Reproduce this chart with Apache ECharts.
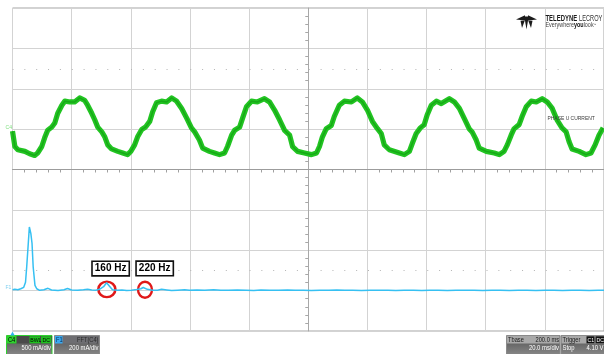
<!DOCTYPE html>
<html><head><meta charset="utf-8">
<script src="https://cdn.jsdelivr.net/npm/echarts@6/dist/echarts.min.js"></script>
<style>html,body{margin:0;padding:0;background:#fff}#c{width:604px;height:354px}</style>
</head><body><div id="c"></div>
<script>
// ---- C4 current trace (time in ms, current in A) ----
const traceTimeMs = [0,0.8,1.8,4.2,5.8,7.5,8.5,9.9,10.9,11.9,13.3,14.3,15.3,16.7,17.7,19.4,21.0,22.7,24.4,25.4,26.8,27.8,28.8,30.2,31.2,32.2,33.5,35.6,37.3,38.9,40.0,41.3,42.3,43.7,45.0,46.4,47.4,48.7,50.4,52.1,53.8,55.5,57.2,58.9,60.5,61.6,63.2,64.3,66.6,68.3,70.0,71.7,72.7,74.1,75.1,76.8,77.8,79.1,80.8,82.8,85.2,86.9,88.6,90.3,92.0,93.7,94.7,96.4,98.7,101.1,102.8,103.8,104.8,106.1,107.8,108.8,110.5,112.2,114.6,116.6,118.3,120.0,121.7,123.4,124.7,125.7,127.4,130.8,132.5,134.2,135.2,136.5,137.9,139.2,140.2,141.6,143.3,145.0,147.7,149.4,151.1,152.7,154.4,155.4,156.8,157.8,160.2,162.9,164.6,166.2,167.3,168.6,169.6,171.3,172.3,173.7,175.4,177.1,179.1,180.8,182.5,184.1,185.8,187.2,188.2,189.2,191.6,193.9,195.6,197.0,198.3,199.7];
const traceCurrentA = [-0.02,-0.21,-0.25,-0.27,-0.30,-0.32,-0.29,-0.21,-0.10,-0.01,0.03,0.08,0.20,0.30,0.35,0.34,0.34,0.39,0.36,0.30,0.20,0.12,0.03,-0.03,-0.09,-0.19,-0.24,-0.27,-0.29,-0.31,-0.27,-0.19,-0.09,0.00,0.03,0.10,0.22,0.33,0.35,0.34,0.39,0.35,0.26,0.14,0.02,-0.03,-0.13,-0.23,-0.27,-0.29,-0.31,-0.29,-0.21,-0.07,-0.01,0.03,0.14,0.28,0.35,0.34,0.38,0.34,0.24,0.12,-0.01,-0.07,-0.21,-0.27,-0.29,-0.31,-0.29,-0.21,-0.09,0.01,0.05,0.16,0.30,0.35,0.34,0.39,0.34,0.24,0.10,0.01,-0.05,-0.19,-0.25,-0.29,-0.31,-0.27,-0.17,-0.05,0.02,0.06,0.18,0.30,0.35,0.32,0.38,0.34,0.26,0.14,0.01,-0.03,-0.13,-0.23,-0.27,-0.29,-0.31,-0.27,-0.19,-0.07,0.01,0.06,0.16,0.28,0.35,0.34,0.38,0.34,0.26,0.12,0.02,-0.03,-0.15,-0.24,-0.27,-0.31,-0.29,-0.19,-0.07,0.02];

// ---- F1 = FFT(C4) (frequency in Hz, amplitude in A) ----
const fftFreqHz = [0,4,9,14,19,22,24,27,28.5,31,33,35,38,41,46,53,60,66,77,87,93,100,110,120,127,134,141,147,154,159,164,169,178,185,193,201,210,217,221,228,237,245,252,261,269,279,291,299,312,325,340,352,365,380,395,408,420,435,450,465,478,492,505,520,535,548,562,575,590,605,620,635,648,662,678,692,705,720,735,750,765,780,795,810,825,840,855,870,885,900,915,930,945,960,975,990,1000];
const fftAmpA = [0.005,0.007,0.005,0.010,0.017,0.042,0.118,0.250,0.317,0.285,0.236,0.117,0.027,0.010,0.002,0.005,0.012,0.004,0.001,0.005,0.011,0.004,0.002,0.005,0.008,0.004,0.003,0.007,0.020,0.040,0.022,0.005,0.002,0.004,0.001,0.003,0.006,0.010,0.016,0.007,0.003,0.002,0.007,0.004,0.001,0.003,0.005,0.002,0.004,0.002,0.005,0.003,0.002,0.004,0.003,0.001,0.004,0.003,0.002,0.004,0.002,0.003,0.001,0.003,0.002,0.004,0.002,0.003,0.001,0.003,0.002,0.003,0.001,0.002,0.003,0.001,0.002,0.003,0.001,0.002,0.003,0.002,0.001,0.002,0.003,0.001,0.002,0.002,0.001,0.003,0.002,0.001,0.002,0.003,0.001,0.002,0.002];

// ---- annotations ----
const harmonicNotes = [{hz:159.5, amp:0.007, text:'160 Hz'}, {hz:224, amp:0.005, text:'220 Hz'}];
const traceNames = {c4:'PHASE U CURRENT'};
const scaleInfo = {c4:'500 mA/div', f1:'200 mA/div', tdiv:'20.0 ms/div', tbase:'200.0 ms', trig:'4.10 V'};

const chart = echarts.init(document.getElementById('c'), null, {renderer:'canvas', width:604, height:354});
const L = 12.5, W = 592.5;
const sans = '"Liberation Sans",Arial,sans-serif';

function txt(x, y, text, size, fill, opts, sx) {
  return {type:'text', x:x, y:y, z:50, scaleX:(sx==null?0.84:sx), scaleY:1,
    style:Object.assign({text:text, fontSize:size, fontFamily:sans, fill:fill, textVerticalAlign:'middle', textAlign:'left'}, opts||{})};
}
function rect(x, y, w, h, fill, stroke) {
  return {type:'rect', z:45, shape:{x:x, y:y, width:w, height:h}, style:{fill:fill, stroke:stroke||null, lineWidth:stroke?1:0}};
}
const bodyGrad = {type:'linear', x:0, y:0, x2:0, y2:1, colorStops:[{offset:0, color:'#4e4e4e'}, {offset:1, color:'#8a8a8a'}]};

const graphics = [
  // logo mark
  {type:'polygon', z:50, shape:{points:[[516,19.5],[525,15.2],[525,20.5]]}, style:{fill:'#1b1b1b'}},
  {type:'polygon', z:50, shape:{points:[[537,19.5],[528,15.2],[528,20.5]]}, style:{fill:'#1b1b1b'}},
  {type:'polygon', z:50, shape:{points:[[524.3,16.5],[528.7,16.5],[526.5,29.5]]}, style:{fill:'#1b1b1b'}},
  {type:'polygon', z:50, shape:{points:[[520.5,20.8],[524.8,20.5],[522,28]]}, style:{fill:'#1b1b1b'}},
  {type:'polygon', z:50, shape:{points:[[532.5,20.8],[528.2,20.5],[531,28]]}, style:{fill:'#1b1b1b'}},
  txt(545.5, 18.8, 'TELEDYNE', 8.6, '#1b1b1b', {fontWeight:'bold'}, 0.69),
  txt(579, 18.8, 'LECROY', 8.6, '#333', null, 0.66),
  {type:'text', x:545.5, y:25.2, z:50, scaleX:0.82, style:{text:'{a|Everywhere}{b|you}{a|look}{c|™}', textVerticalAlign:'middle', rich:{a:{fontSize:6.6, fontFamily:sans, fill:'#444'}, b:{fontSize:6.6, fontFamily:sans, fontWeight:'bold', fill:'#111'}, c:{fontSize:3.5, fontFamily:sans, fill:'#444'}}}},
  // trace name
  txt(547.5, 118.5, traceNames.c4, 6.2, '#3a3a3a', null, 0.8),
  // channel ground markers
  txt(5.5, 127.5, 'C4', 6, '#7fe07f'),
  txt(5.5, 287.5, 'F1', 6, '#7fd0f0'),
  // trigger position marker
  {type:'polygon', z:50, shape:{points:[[10.3,335.5],[14.7,335.5],[12.5,331.5]]}, style:{fill:'#33b5f0'}},
  // C4 descriptor
  rect(6.5, 335.5, 45.5, 20, bodyGrad, '#2fd12f'),
  rect(7, 336, 44.5, 7.5, '#4a4a4a'),
  rect(7, 336, 9.5, 7.5, '#2fd12f'),
  txt(8, 339.8, 'C4', 6.8, '#000'),
  rect(29.5, 336.3, 10.5, 7, '#1fc01f'),
  txt(30.2, 339.8, 'BWL', 6.2, '#000'),
  rect(41, 336.3, 10, 7, '#1fc01f'),
  txt(42.5, 339.8, 'DC', 6.2, '#000'),
  txt(51, 348.3, scaleInfo.c4, 7, '#fff', {textAlign:'right'}),
  // F1 descriptor
  rect(54.5, 335.5, 45, 20, bodyGrad, '#8a8a8a'),
  rect(55, 336, 44, 7.5, '#6e6e72'),
  rect(55, 336, 7.5, 7.5, '#39a9f0'),
  txt(56, 339.8, 'F1', 6.8, '#0b2d55'),
  txt(98.5, 339.8, 'FFT(C4)', 6.8, '#2a2a2a', {textAlign:'right'}),
  txt(98.5, 348.3, scaleInfo.f1, 7, '#fff', {textAlign:'right'}),
  // Timebase descriptor
  rect(506.5, 335.5, 53.5, 20, bodyGrad, '#8a8a8a'),
  rect(507, 336, 52.5, 7.5, '#a9a9a9'),
  txt(508, 339.8, 'Tbase', 6.8, '#1c1c1c'),
  txt(559, 339.8, scaleInfo.tbase, 6.8, '#1c1c1c', {textAlign:'right'}),
  txt(559, 348.3, scaleInfo.tdiv, 7, '#fff', {textAlign:'right'}),
  // Trigger descriptor
  rect(561, 335.5, 44, 20, bodyGrad, '#8a8a8a'),
  rect(561.5, 336, 43, 7.5, '#a9a9a9'),
  txt(562.5, 339.8, 'Trigger', 6.8, '#1c1c1c'),
  rect(586.5, 336.3, 8, 7, '#111'),
  txt(587.5, 339.8, 'C1', 6.2, '#fff'),
  rect(595.5, 336.3, 8.5, 7, '#111'),
  txt(596.5, 339.8, 'DC', 6.2, '#fff'),
  txt(562.5, 348.3, 'Stop', 7, '#fff'),
  txt(603.5, 348.3, scaleInfo.trig, 7, '#fff', {textAlign:'right'})
];

const option = {
  animation:false,
  backgroundColor:'#ffffff',
  grid:[
    {left:L, top:8, width:W, height:162, show:false},
    {left:L, top:170, width:W, height:161, show:false},
    {left:L, top:8, width:W, height:323, show:true, borderColor:'#a4a4a4', borderWidth:1, backgroundColor:'transparent'}
  ],
  xAxis:[
    {gridIndex:0, type:'value', min:0, max:200, interval:20, show:false},
    {gridIndex:1, type:'value', min:0, max:1000, interval:100, show:false},
    {gridIndex:2, type:'value', min:-5, max:5, interval:1,
      axisLine:{show:true, onZero:true, lineStyle:{color:'#9c9c9c', width:1}},
      axisTick:{show:false}, axisLabel:{show:false},
      minorTick:{show:true, splitNumber:5, length:3, lineStyle:{color:'#a0a0a0'}},
      splitLine:{show:true, lineStyle:{color:'#d3d3d3', width:1}}}
  ],
  yAxis:[
    {gridIndex:0, type:'value', min:-0.5, max:1.5, interval:0.5, show:false},
    {gridIndex:1, type:'value', min:-0.2, max:0.6, interval:0.2, show:false},
    {gridIndex:2, type:'value', min:-4, max:4, interval:1,
      axisLine:{show:true, onZero:true, lineStyle:{color:'#a8a8a8', width:1}},
      axisTick:{show:false}, axisLabel:{show:false},
      minorTick:{show:true, splitNumber:5, length:3, lineStyle:{color:'#a8a8a8'}},
      splitLine:{show:true, lineStyle:{color:'#d3d3d3', width:1}}}
  ],
  series:[
    {type:'line', name:'C4', xAxisIndex:0, yAxisIndex:0, z:5,
      data: traceTimeMs.map((t,i)=>[t, traceCurrentA[i]]),
      showSymbol:false, lineStyle:{color:'#22c422', width:5.2, join:'round'},
      markLine:{silent:true, symbol:'none', label:{show:false}, animation:false,
        lineStyle:{color:'#b4b4b4', type:[1,10.85], width:1}, data:[{yAxis:0.75}]}},
    {type:'line', name:'C4 core', xAxisIndex:0, yAxisIndex:0, z:6,
      data: traceTimeMs.map((t,i)=>[t, traceCurrentA[i]]),
      showSymbol:false, lineStyle:{color:'#0c900c', width:1.5, opacity:0.5}},
    {type:'line', name:'F1', xAxisIndex:1, yAxisIndex:1, z:7,
      data: fftFreqHz.map((f,i)=>[f, fftAmpA[i]]),
      showSymbol:false, lineStyle:{color:'#36c0f2', width:1.5},
      markLine:{silent:true, symbol:'none', label:{show:false}, animation:false,
        lineStyle:{color:'#b4b4b4', type:[1,10.85], width:1}, data:[{yAxis:0.1}]},
      markPoint:{silent:true, symbol:'circle',
        itemStyle:{color:'rgba(0,0,0,0)', borderColor:'#e01818', borderWidth:2.5},
        label:{show:true, position:'inside', color:'#000', fontWeight:'bold', fontSize:10, fontFamily:sans,
          backgroundColor:'#fff', borderColor:'#111', borderWidth:1.6, padding:[2,2,1,2], textBorderWidth:0},
        data:[
          {coord:[harmonicNotes[0].hz, harmonicNotes[0].amp], symbolSize:[17,15.5], label:{formatter:harmonicNotes[0].text, offset:[3.8,-20.8]}},
          {coord:[harmonicNotes[1].hz, harmonicNotes[1].amp], symbolSize:[14,16], label:{formatter:harmonicNotes[1].text, offset:[9.7,-21.3]}}
        ]}}
  ],
  graphic: graphics
};
chart.setOption(option);
</script>
</body></html>
